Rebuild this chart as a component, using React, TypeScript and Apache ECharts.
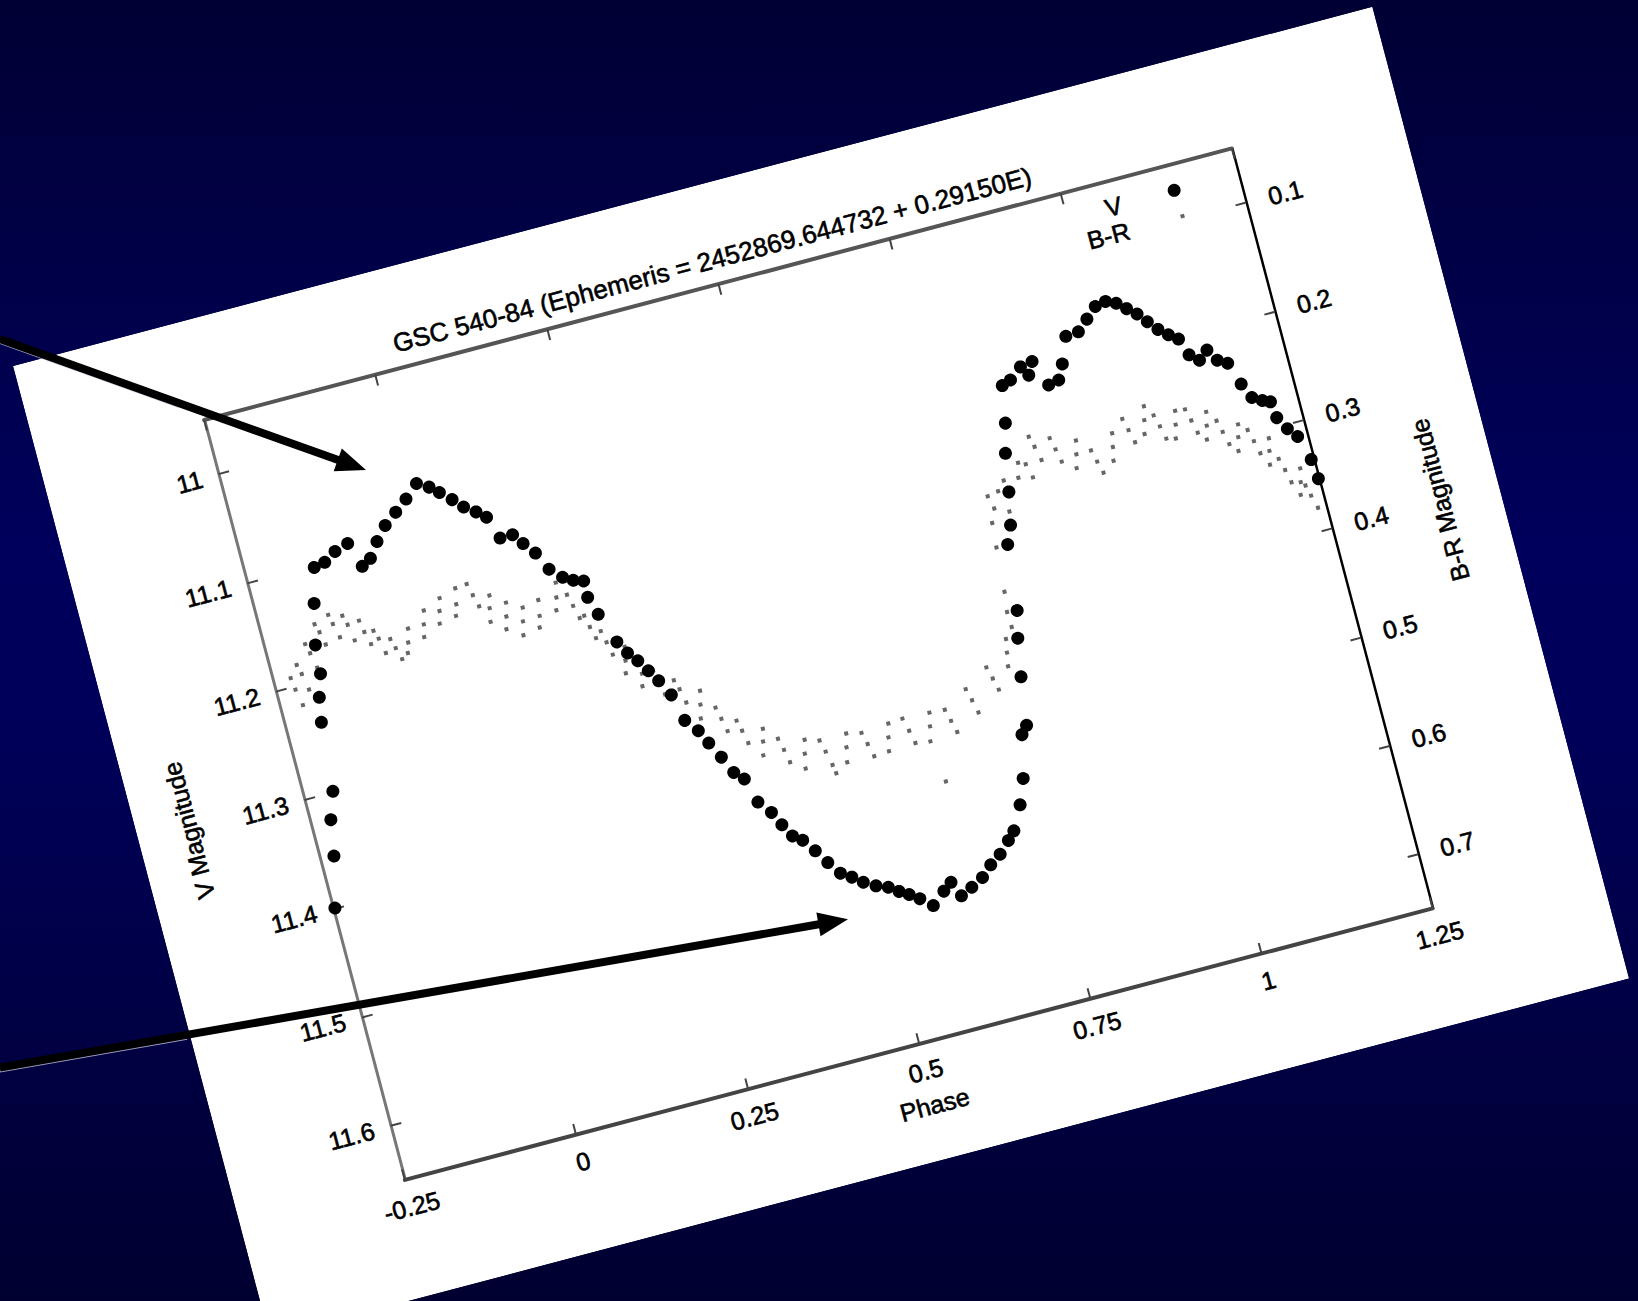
import React, { useEffect, useRef } from "react";
import * as echarts from "echarts";

// ---------- data ----------
const TITLE = "GSC 540-84 (Ephemeris = 2452869.644732 + 0.29150E)";
const phaseTicks = [-0.25, 0, 0.25, 0.5, 0.75, 1, 1.25];
const vTicks = [11, 11.1, 11.2, 11.3, 11.4, 11.5, 11.6];
const brTicks = [0.1, 0.2, 0.3, 0.4, 0.5, 0.6, 0.7];

// V magnitude: [phase, mag]
const vPoints: [number, number][] = [
  [-0.2475, 11.4], [-0.2301, 11.355], [-0.2212, 11.323], [-0.2082, 11.299], [-0.199, 11.237],
  [-0.1928, 11.215], [-0.1827, 11.195], [-0.1793, 11.169], [-0.1661, 11.133], [-0.1529, 11.102],
  [-0.1368, 11.1], [-0.1188, 11.093], [-0.0987, 11.089], [-0.087, 11.112], [-0.073, 11.107],
  [-0.058, 11.094], [-0.041, 11.082], [-0.0219, 11.073], [-0.0031, 11.064], [0.0168, 11.053],
  [0.0327, 11.059], [0.0448, 11.066], [0.0596, 11.075], [0.0726, 11.084], [0.0878, 11.091],
  [0.1002, 11.098], [0.1112, 11.119], [0.1294, 11.119], [0.1406, 11.129], [0.154, 11.14],
  [0.1668, 11.157], [0.1823, 11.167], [0.1958, 11.172], [0.2097, 11.175], [0.2093, 11.19],
  [0.2176, 11.207], [0.2331, 11.235], [0.2436, 11.247], [0.2548, 11.256], [0.2656, 11.267],
  [0.2761, 11.278], [0.2883, 11.293], [0.2974, 11.318], [0.3122, 11.33], [0.322, 11.343],
  [0.3341, 11.358], [0.3455, 11.374], [0.3576, 11.382], [0.3678, 11.405], [0.3825, 11.417],
  [0.3923, 11.43], [0.4027, 11.442], [0.4151, 11.448], [0.4285, 11.46], [0.4413, 11.473],
  [0.4547, 11.485], [0.4689, 11.491], [0.4827, 11.498], [0.4987, 11.504], [0.515, 11.508],
  [0.5281, 11.514], [0.5408, 11.519], [0.5539, 11.525], [0.5698, 11.534], [0.5894, 11.524],
  [0.6023, 11.518], [0.6117, 11.532], [0.6289, 11.527], [0.647, 11.521], [0.6628, 11.512],
  [0.6795, 11.505], [0.6957, 11.495], [0.7066, 11.488], [0.7245, 11.467], [0.7382, 11.445],
  [0.7524, 11.407], [0.762, 11.4], [0.7719, 11.357], [0.7814, 11.323], [0.7905, 11.299],
  [0.8014, 11.24], [0.8123, 11.224], [0.822, 11.195], [0.8312, 11.161], [0.842, 11.135],
  [0.8513, 11.102], [0.8645, 11.099], [0.8828, 11.09], [0.8912, 11.099], [0.9006, 11.088],
  [0.9148, 11.112], [0.9303, 11.11], [0.941, 11.097], [0.9558, 11.074], [0.9745, 11.073],
  [0.9907, 11.064], [1.0067, 11.055], [1.0224, 11.053], [1.0363, 11.057], [1.0486, 11.064],
  [1.061, 11.071], [1.0722, 11.08], [1.0839, 11.089], [1.0962, 11.096], [1.1085, 11.102],
  [1.1172, 11.118], [1.1295, 11.125], [1.1433, 11.118], [1.1537, 11.129], [1.1669, 11.134],
  [1.1778, 11.155], [1.1875, 11.169], [1.2007, 11.174], [1.2113, 11.177], [1.2142, 11.192],
  [1.2247, 11.204], [1.2359, 11.213], [1.2461, 11.236], [1.249, 11.254],
];

// B-R colour index: [phase, B-R]
const brPoints: [number, number][] = [
  [-0.2226, 0.303], [-0.218, 0.318], [-0.225, 0.292],
  [-0.2084, 0.291], [-0.204, 0.306], [-0.212, 0.282],
  [-0.1895, 0.275], [-0.185, 0.289], [-0.193, 0.266],
  [-0.1691, 0.259], [-0.165, 0.271], [-0.173, 0.251],
  [-0.1479, 0.255], [-0.143, 0.268], [-0.151, 0.246],
  [-0.128, 0.259], [-0.124, 0.274], [-0.132, 0.25],
  [-0.1079, 0.269], [-0.103, 0.281], [-0.111, 0.258],
  [-0.0906, 0.278], [-0.086, 0.292], [-0.095, 0.27],
  [-0.0708, 0.29], [-0.066, 0.301], [-0.075, 0.281],
  [-0.0518, 0.288], [-0.047, 0.276], [-0.056, 0.297],
  [-0.024, 0.276], [-0.019, 0.264], [-0.028, 0.287],
  [0.0023, 0.268], [0.007, 0.257], [-0.002, 0.279],
  [0.0276, 0.266], [0.032, 0.252], [0.023, 0.276],
  [0.0534, 0.262], [0.058, 0.273], [0.049, 0.251],
  [0.0717, 0.277], [0.076, 0.266], [0.068, 0.289],
  [0.0915, 0.288], [0.096, 0.276], [0.087, 0.299],
  [0.1124, 0.296], [0.117, 0.284], [0.108, 0.308],
  [0.1371, 0.295], [0.141, 0.281], [0.133, 0.305],
  [0.1666, 0.283], [0.171, 0.27], [0.162, 0.294],
  [0.1864, 0.294], [0.191, 0.306], [0.182, 0.283],
  [0.2017, 0.316], [0.206, 0.327], [0.198, 0.305],
  [0.2189, 0.333], [0.223, 0.345], [0.215, 0.322],
  [0.2381, 0.353], [0.242, 0.341], [0.234, 0.364],
  [0.256, 0.368], [0.26, 0.356], [0.252, 0.379],
  [0.2761, 0.378], [0.28, 0.391], [0.272, 0.368],
  [0.3016, 0.39], [0.306, 0.403], [0.297, 0.381],
  [0.3245, 0.408], [0.329, 0.396], [0.32, 0.42],
  [0.348, 0.425], [0.352, 0.437], [0.344, 0.414],
  [0.372, 0.44], [0.376, 0.452], [0.368, 0.43],
  [0.3967, 0.454], [0.401, 0.443], [0.392, 0.466],
  [0.4222, 0.466], [0.426, 0.478], [0.418, 0.455],
  [0.4492, 0.474], [0.454, 0.462], [0.445, 0.487],
  [0.4784, 0.477], [0.483, 0.49], [0.474, 0.466], [0.4851, 0.498],
  [0.5084, 0.478], [0.513, 0.466], [0.504, 0.491],
  [0.5385, 0.48], [0.543, 0.492], [0.534, 0.469],
  [0.5692, 0.479], [0.574, 0.467], [0.565, 0.491],
  [0.5999, 0.478], [0.604, 0.49], [0.595, 0.466],
  [0.6299, 0.479], [0.634, 0.467], [0.625, 0.492], [0.6317, 0.53],
  [0.6606, 0.479], [0.665, 0.49], [0.656, 0.468],
  [0.6967, 0.466], [0.701, 0.478], [0.692, 0.455],
  [0.7327, 0.452], [0.737, 0.463], [0.728, 0.441],
  [0.7615, 0.433], [0.758, 0.445], [0.765, 0.421],
  [0.7771, 0.412], [0.7762, 0.398], [0.78, 0.38],
  [0.785, 0.34], [0.788, 0.318],
  [0.7915, 0.294], [0.796, 0.306],
  [0.8075, 0.292], [0.8157, 0.312], [0.8228, 0.299], [0.819, 0.284],
  [0.84, 0.285], [0.845, 0.272], [0.855, 0.275], [0.86, 0.288],
  [0.8733, 0.262], [0.878, 0.275], [0.869, 0.252],
  [0.901, 0.269], [0.905, 0.281], [0.897, 0.258],
  [0.9276, 0.278], [0.932, 0.266], [0.923, 0.29],
  [0.9534, 0.289], [0.958, 0.3], [0.949, 0.278],
  [0.9801, 0.28], [0.984, 0.268], [0.976, 0.292],
  [1.0075, 0.269], [1.012, 0.281], [1.003, 0.258],
  [1.0326, 0.264], [1.037, 0.252], [1.028, 0.276],
  [1.0517, 0.273], [1.056, 0.285], [1.047, 0.262],
  [1.0738, 0.275], [1.078, 0.263], [1.069, 0.287],
  [1.0966, 0.275], [1.101, 0.287], [1.092, 0.264],
  [1.1158, 0.283], [1.12, 0.271], [1.111, 0.295],
  [1.1353, 0.292], [1.14, 0.304], [1.131, 0.281],
  [1.1547, 0.3], [1.159, 0.289], [1.15, 0.312],
  [1.1746, 0.307], [1.179, 0.319], [1.17, 0.296],
  [1.1922, 0.319], [1.196, 0.308], [1.188, 0.331],
  [1.2068, 0.339], [1.211, 0.351], [1.202, 0.328],
  [1.2237, 0.353], [1.228, 0.341], [1.219, 0.364],
  [1.233, 0.367], [1.238, 0.379], [1.229, 0.357],
];

// ---------- layout ----------
const PAGE_W = 1638;
const PAGE_H = 1301;
const PAPER = { left: 12.5, top: 365.6, width: 1406, height: 1005, angle: -14.8 };
const FONT = "'Liberation Sans', Arial, Helvetica, sans-serif";
const FS = 25;

const fmt = (v: number) => String(Math.round(v * 100) / 100);

function buildChartOption(): any {
  const labelStyle = {
    fontFamily: FONT,
    fontSize: FS,
    color: "#000",
    textBorderColor: "#000",
    textBorderWidth: 0.6,
  };
  return {
    animation: false,
    backgroundColor: "#ffffff",
    title: {
      text: TITLE,
      left: "center",
      top: 58,
      textStyle: { ...labelStyle, fontSize: 26, fontWeight: "normal" },
    },
    legend: [
      {
        data: [{ name: "V", icon: "circle" }],
        orient: "vertical",
        align: "right",
        right: 232,
        top: 114,
        padding: 0,
        itemWidth: 13,
        itemHeight: 13,
        selectedMode: false,
        textStyle: { ...labelStyle, padding: [0, 43, 0, 0] },
      },
      {
        data: [{ name: "B-R", icon: "rect" }],
        orient: "vertical",
        align: "right",
        right: 235,
        top: 141,
        padding: 0,
        itemWidth: 4,
        itemHeight: 4,
        selectedMode: false,
        textStyle: { ...labelStyle, padding: [0, 48, 0, 0] },
      },
    ],
    grid: { left: 171, top: 101, width: 1063, height: 786 },
    xAxis: [
      {
        type: "value",
        position: "bottom",
        min: -0.25,
        max: 1.25,
        interval: 0.25,
        name: "Phase",
        nameLocation: "middle",
        nameGap: 50,
        nameTextStyle: labelStyle,
        axisLine: { show: true, onZero: false, lineStyle: { color: "#444", width: 4 } },
        axisTick: { show: true, inside: true, length: 11, customValues: phaseTicks, lineStyle: { color: "#444", width: 2 } },
        axisLabel: { ...labelStyle, margin: 15, customValues: phaseTicks, formatter: fmt },
        splitLine: { show: false },
      },
      {
        type: "value",
        position: "top",
        min: -0.25,
        max: 1.25,
        interval: 0.25,
        axisLine: { show: true, onZero: false, lineStyle: { color: "#555", width: 4 } },
        axisTick: { show: true, inside: true, length: 11, customValues: phaseTicks, lineStyle: { color: "#444", width: 2 } },
        axisLabel: { show: false },
        splitLine: { show: false },
      },
    ],
    yAxis: [
      {
        type: "value",
        position: "left",
        inverse: true,
        min: 10.95,
        max: 11.65,
        name: "V Magnitude",
        nameLocation: "middle",
        nameGap: 107,
        nameRotate: 90,
        nameTextStyle: labelStyle,
        axisLine: { show: true, onZero: false, lineStyle: { color: "#777", width: 3 } },
        axisTick: { show: true, inside: true, length: 11, customValues: vTicks, lineStyle: { color: "#444", width: 2 } },
        axisLabel: { ...labelStyle, margin: 17, customValues: vTicks, formatter: fmt },
        splitLine: { show: false },
      },
      {
        type: "value",
        position: "right",
        inverse: true,
        min: 0.05,
        max: 0.75,
        name: "B-R Magnitude",
        nameLocation: "middle",
        nameGap: 99,
        nameRotate: 90,
        nameTextStyle: labelStyle,
        axisLine: { show: true, onZero: false, lineStyle: { color: "#000", width: 2.5 } },
        axisTick: { show: true, inside: true, length: 11, customValues: brTicks, lineStyle: { color: "#444", width: 2 } },
        axisLabel: { ...labelStyle, margin: 23, customValues: brTicks, formatter: fmt },
        splitLine: { show: false },
      },
    ],
    series: [
      {
        type: "scatter",
        name: "B-R",
        xAxisIndex: 0,
        yAxisIndex: 1,
        data: brPoints,
        symbol: "rect",
        symbolSize: 4,
        itemStyle: { color: "#666", opacity: 1 },
        z: 2,
      },
      {
        type: "scatter",
        name: "V",
        xAxisIndex: 0,
        yAxisIndex: 0,
        data: vPoints,
        symbol: "circle",
        symbolSize: 13,
        itemStyle: { color: "#000", opacity: 1 },
        z: 3,
      },
    ],
  };
}

// arrow annotation geometry (page pixels)
const ARROWS = [
  { from: [0, 339], to: [366, 470] },
  { from: [0, 1067.6], to: [848, 919.2] },
];

function buildOverlayOption(): any {
  const elements: any[] = [];
  ARROWS.forEach((a) => {
    const dx = a.to[0] - a.from[0];
    const dy = a.to[1] - a.from[1];
    const len = Math.sqrt(dx * dx + dy * dy);
    const ux = dx / len;
    const uy = dy / len;
    const headLen = 30;
    const halfW = 12;
    const bx = a.to[0] - ux * headLen;
    const by = a.to[1] - uy * headLen;
    elements.push({
      type: "line",
      shape: { x1: a.from[0], y1: a.from[1] + 4, x2: a.from[0] + ux * 190, y2: a.from[1] + uy * 190 + 4 },
      style: { stroke: "rgba(200,200,225,0.8)", lineWidth: 2 },
      z: 1,
    });
    elements.push({
      type: "line",
      shape: { x1: a.from[0], y1: a.from[1], x2: bx + ux * 2, y2: by + uy * 2 },
      style: { stroke: "#000", lineWidth: 8 },
      z: 2,
    });
    elements.push({
      type: "polygon",
      shape: {
        points: [
          [a.to[0], a.to[1]],
          [bx - uy * halfW, by + ux * halfW],
          [bx + uy * halfW, by - ux * halfW],
        ],
      },
      style: { fill: "#000" },
      z: 3,
    });
  });
  return { animation: false, backgroundColor: "transparent", graphic: { elements } };
}

export default function App() {
  const paperRef = useRef<HTMLDivElement>(null);
  const overlayRef = useRef<HTMLDivElement>(null);

  useEffect(() => {
    const chart = echarts.init(paperRef.current!, undefined, { renderer: "svg" });
    chart.setOption(buildChartOption());
    const overlay = echarts.init(overlayRef.current!, undefined, { renderer: "svg" });
    overlay.setOption(buildOverlayOption());
    return () => {
      chart.dispose();
      overlay.dispose();
    };
  }, []);

  return (
    <div
      style={{
        position: "fixed",
        left: 0,
        top: 0,
        width: PAGE_W,
        height: PAGE_H,
        overflow: "hidden",
        background: "linear-gradient(to bottom, #000034 0%, #00005c 42%, #00005a 55%, #000030 100%)",
      }}
    >
      <div
        ref={paperRef}
        style={{
          position: "absolute",
          left: PAPER.left,
          top: PAPER.top,
          width: PAPER.width,
          height: PAPER.height,
          transformOrigin: "0 0",
          transform: `rotate(${PAPER.angle}deg)`,
        }}
      />
      <div
        ref={overlayRef}
        style={{ position: "absolute", left: 0, top: 0, width: PAGE_W, height: PAGE_H, pointerEvents: "none" }}
      />
    </div>
  );
}
